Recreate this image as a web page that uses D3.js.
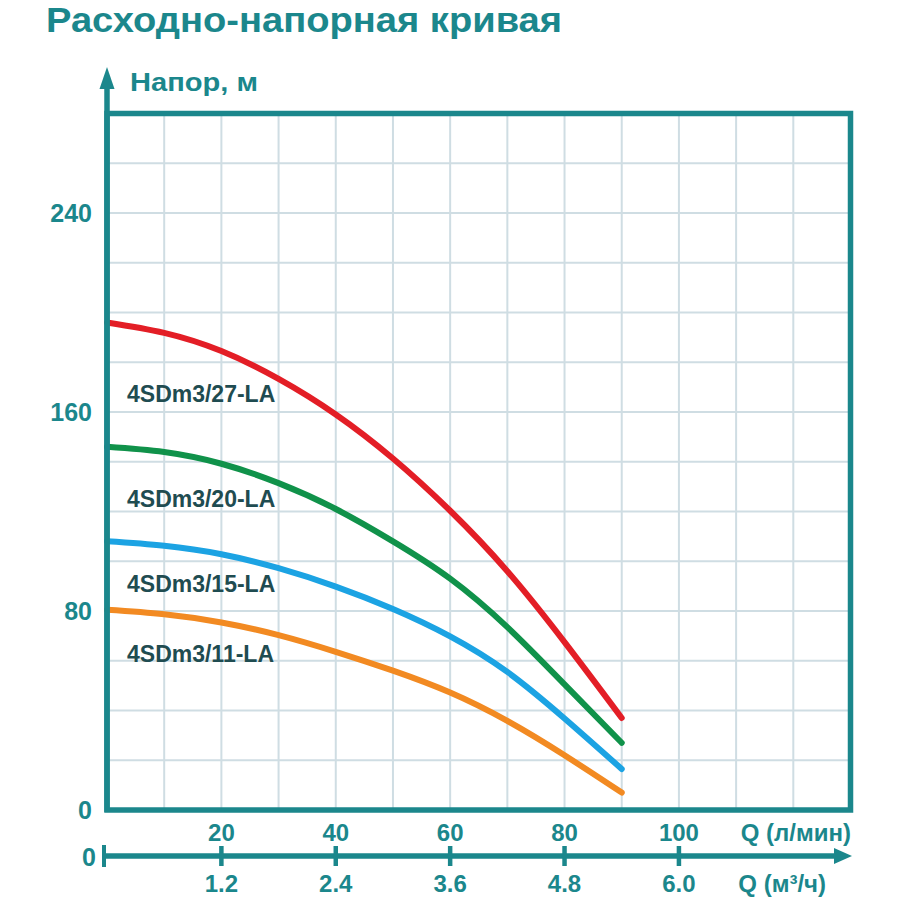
<!DOCTYPE html>
<html><head><meta charset="utf-8">
<script src="https://cdn.jsdelivr.net/npm/d3@7"></script>
<style>body{margin:0;background:#fff}</style>
</head><body>
<svg id="c" width="900" height="900"></svg>
<script>
// ---- data ----
const flowLpm = [0,10,20,30,40,50,60,70,80,90];
const head27 = [196,191.8,184.5,173.3,159,141.3,120.3,96,67.5,37];
const head20 = [146,143.9,139.2,131.4,121,108,93,73.5,50.5,27];
const head15 = [108,106.2,102.8,97.2,89.8,80.8,69.8,55.5,36.8,16.5];
const head11 = [80.5,78.7,75.4,70.3,63.6,56,47.2,35.8,22,7];
const seriesNames = ["4SDm3/27-LA","4SDm3/20-LA","4SDm3/15-LA","4SDm3/11-LA"];
const yTicks = [0,80,160,240];
const xTicksLpm = [20,40,60,80,100];
const xTicksM3h = ["1.2","2.4","3.6","4.8","6.0"];
const titleText = "Расходно-напорная кривая";
const yTitle = "Напор, м";
const xTitle1 = "Q (л/мин)";
const xTitle2 = "Q (м³/ч)";

// ---- style ----
const teal = "#1b878c";
const gridC = "#cfdde3";
const labelC = "#1f4c51";
const colors = ["#e31e26","#10924a","#1ca3e3","#f28a22"];
const FONT = "'Liberation Sans', Arial, sans-serif";

const svg = d3.select("#c");
const x = d3.scaleLinear().domain([0,130]).range([107,850.5]);
const y = d3.scaleLinear().domain([0,280]).range([810,113.5]);

// grid
svg.append("g").selectAll("line").data(d3.range(10,130,10)).join("line")
  .attr("x1",d=>x(d)).attr("x2",d=>x(d)).attr("y1",y(280)).attr("y2",y(0))
  .attr("stroke",gridC).attr("stroke-width",2);
svg.append("g").selectAll("line").data(d3.range(20,280,20)).join("line")
  .attr("y1",d=>y(d)).attr("y2",d=>y(d)).attr("x1",x(0)).attr("x2",x(130))
  .attr("stroke",gridC).attr("stroke-width",2);

// curves
const series = [head27,head20,head15,head11];
const line = d3.line().x((d,i)=>x(flowLpm[i])).y(d=>y(d)).curve(d3.curveNatural);
svg.append("g").selectAll("path").data(series).join("path")
  .attr("d",d=>line(d)).attr("fill","none")
  .attr("stroke",(d,i)=>colors[i]).attr("stroke-width",6)
  .attr("stroke-linecap","round");

// frame
svg.append("rect").attr("x",x(0)).attr("y",y(280))
  .attr("width",x(130)-x(0)).attr("height",y(0)-y(280))
  .attr("fill","none").attr("stroke",teal).attr("stroke-width",5.5);
// y axis arrow
svg.append("line").attr("x1",x(0)).attr("x2",x(0)).attr("y1",y(0)+2).attr("y2",84)
  .attr("stroke",teal).attr("stroke-width",5.5);
svg.append("path").attr("d",`M${x(0)},67 L${x(0)+7.5},89 L${x(0)-7.5},89 Z`).attr("fill",teal);

// series labels (baseline positions in head units)
const labelHeads = [164,121.8,87.6,59.5];
svg.append("g").selectAll("text").data(seriesNames).join("text")
  .attr("x",127).attr("y",(d,i)=>y(labelHeads[i]))
  .attr("font-family",FONT).attr("font-weight","bold").attr("font-size",23)
  .attr("fill",labelC).text(d=>d);

// y tick labels
svg.append("g").selectAll("text").data(yTicks).join("text")
  .attr("x",92).attr("y",d=>y(d)).attr("dy","0.36em").attr("text-anchor","end")
  .attr("font-family",FONT).attr("font-weight","bold").attr("font-size",25)
  .attr("fill",teal).text(d=>d);

// top x labels
const axY = 856;
svg.append("g").selectAll("text").data(xTicksLpm).join("text")
  .attr("x",d=>x(d)).attr("y",832).attr("dy","0.36em").attr("text-anchor","middle")
  .attr("font-family",FONT).attr("font-weight","bold").attr("font-size",24)
  .attr("fill",teal).text(d=>d);
svg.append("text").attr("x",851).attr("y",832).attr("dy","0.36em").attr("text-anchor","end")
  .attr("font-family",FONT).attr("font-weight","bold").attr("font-size",24)
  .attr("fill",teal).text(xTitle1);

// bottom axis
svg.append("line").attr("x1",104).attr("x2",838).attr("y1",axY).attr("y2",axY)
  .attr("stroke",teal).attr("stroke-width",5.5);
svg.append("path").attr("d",`M852,${axY} L834,${axY-8} L834,${axY+8} Z`).attr("fill",teal);
svg.append("line").attr("x1",104).attr("x2",104).attr("y1",845).attr("y2",867)
  .attr("stroke",teal).attr("stroke-width",4);
svg.append("g").selectAll("line").data(xTicksLpm).join("line")
  .attr("x1",d=>x(d)).attr("x2",d=>x(d)).attr("y1",846).attr("y2",866)
  .attr("stroke",teal).attr("stroke-width",4.5);
svg.append("text").attr("x",96).attr("y",axY+1).attr("dy","0.36em").attr("text-anchor","end")
  .attr("font-family",FONT).attr("font-weight","bold").attr("font-size",25)
  .attr("fill",teal).text("0");
svg.append("g").selectAll("text").data(xTicksM3h).join("text")
  .attr("x",(d,i)=>x(xTicksLpm[i])).attr("y",883).attr("dy","0.36em").attr("text-anchor","middle")
  .attr("font-family",FONT).attr("font-weight","bold").attr("font-size",24)
  .attr("fill",teal).text(d=>d);
svg.append("text").attr("x",826).attr("y",883).attr("dy","0.36em").attr("text-anchor","end")
  .attr("font-family",FONT).attr("font-weight","bold").attr("font-size",24)
  .attr("fill",teal).text(xTitle2);

// titles
svg.append("text").attr("x",46).attr("y",32)
  .attr("font-family",FONT).attr("font-weight","bold").attr("font-size",35)
  .attr("textLength",516).attr("lengthAdjust","spacingAndGlyphs")
  .attr("fill",teal).text(titleText);
svg.append("text").attr("x",130).attr("y",91)
  .attr("font-family",FONT).attr("font-weight","bold").attr("font-size",26.5)
  .attr("textLength",128).attr("lengthAdjust","spacingAndGlyphs")
  .attr("fill",teal).text(yTitle);
</script>
</body></html>
